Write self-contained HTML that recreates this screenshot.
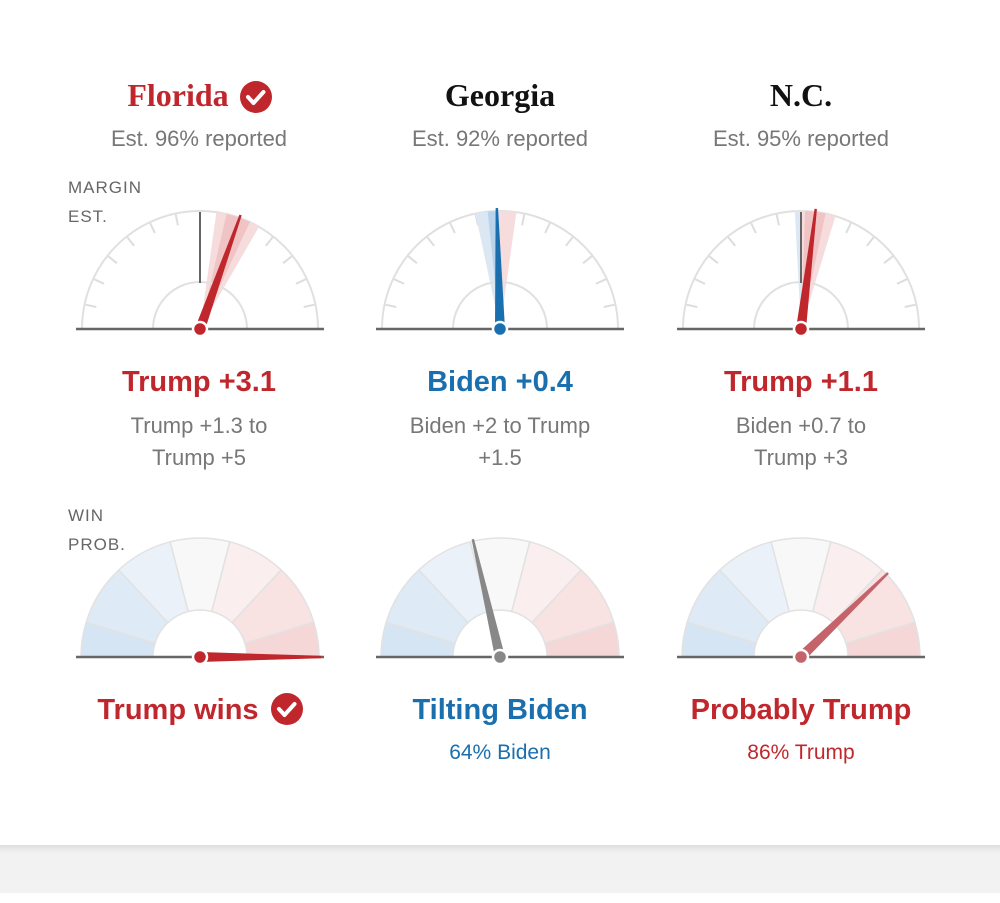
<!DOCTYPE html>
<html><head><meta charset="utf-8">
<style>
body{margin:0;width:1000px;height:903px;background:#fff;overflow:hidden;font-family:"Liberation Sans",sans-serif;position:relative}
.band{position:absolute;left:0;top:845px;width:1000px;height:48px;background:#f2f2f2;box-shadow:inset 0 8px 8px -6px rgba(0,0,0,0.12)}
svg{position:absolute;left:0;top:0}
</style></head><body>
<div class="band"></div>
<svg width="1000" height="845" xmlns="http://www.w3.org/2000/svg" xmlns:xlink="http://www.w3.org/1999/xlink">
<defs>
<g id="arc">
<path d="M-118 0 A118 118 0 0 1 118 0" fill="none" stroke="#e0e0e0" stroke-width="2"/>
<g stroke="#ddd" stroke-width="2">
<line x1="0" y1="-106" x2="0" y2="-117" transform="rotate(12)"/>
<line x1="0" y1="-106" x2="0" y2="-117" transform="rotate(25.2)"/>
<line x1="0" y1="-106" x2="0" y2="-117" transform="rotate(38.4)"/>
<line x1="0" y1="-106" x2="0" y2="-117" transform="rotate(51.6)"/>
<line x1="0" y1="-106" x2="0" y2="-117" transform="rotate(64.8)"/>
<line x1="0" y1="-106" x2="0" y2="-117" transform="rotate(78)"/>
<line x1="0" y1="-106" x2="0" y2="-117" transform="rotate(-12)"/>
<line x1="0" y1="-106" x2="0" y2="-117" transform="rotate(-25.2)"/>
<line x1="0" y1="-106" x2="0" y2="-117" transform="rotate(-38.4)"/>
<line x1="0" y1="-106" x2="0" y2="-117" transform="rotate(-51.6)"/>
<line x1="0" y1="-106" x2="0" y2="-117" transform="rotate(-64.8)"/>
<line x1="0" y1="-106" x2="0" y2="-117" transform="rotate(-78)"/>
</g>
</g>
<g id="inner">
<path d="M-47 0 A47 47 0 0 1 47 0" fill="none" stroke="#e0e0e0" stroke-width="2"/>
<line x1="-124" y1="0" x2="124" y2="0" stroke="#666" stroke-width="2.5"/>
</g>
<g id="segs" stroke="#e2e2e2" stroke-width="1.5">
<path d="M-47 0 L-119 0 A119 119 0 0 1 -113.8 -34.8 L-44.95 -13.74 A47 47 0 0 0 -47 0Z" fill="#d6e5f3"/>
<path d="M-44.95 -13.74 L-113.8 -34.8 A119 119 0 0 1 -81.16 -87.03 L-32.05 -34.38 A47 47 0 0 0 -44.95 -13.74Z" fill="#deeaf6"/>
<path d="M-32.05 -34.38 L-81.16 -87.03 A119 119 0 0 1 -29.8 -115.2 L-11.77 -45.5 A47 47 0 0 0 -32.05 -34.38Z" fill="#ebf1f9"/>
<path d="M-11.77 -45.5 L-29.8 -115.2 A119 119 0 0 1 29.8 -115.2 L11.77 -45.5 A47 47 0 0 0 -11.77 -45.5Z" fill="#f8f8f8"/>
<path d="M11.77 -45.5 L29.8 -115.2 A119 119 0 0 1 81.16 -87.03 L32.05 -34.38 A47 47 0 0 0 11.77 -45.5Z" fill="#fbeeee"/>
<path d="M32.05 -34.38 L81.16 -87.03 A119 119 0 0 1 113.8 -34.8 L44.95 -13.74 A47 47 0 0 0 32.05 -34.38Z" fill="#f8e2e2"/>
<path d="M44.95 -13.74 L113.8 -34.8 A119 119 0 0 1 119 0 L47 0 A47 47 0 0 0 44.95 -13.74Z" fill="#f5d7d7"/>
<line x1="-124" y1="0" x2="124" y2="0" stroke="#666" stroke-width="2.5"/>
</g>
<polygon id="ndl" points="-5,0 -1.2,-121 1.2,-121 5,0"/>
</defs>

<g font-family="Liberation Serif,serif" font-weight="bold" font-size="32" text-anchor="middle">
<text x="178" y="106" fill="#c0272d">Florida</text>
<text x="500" y="106" fill="#121212">Georgia</text>
<text x="801" y="106" fill="#121212">N.C.</text>
</g>
<g font-size="22" fill="#777" text-anchor="middle">
<text x="199" y="146">Est. 96% reported</text>
<text x="500" y="146">Est. 92% reported</text>
<text x="801" y="146">Est. 95% reported</text>
</g>
<g font-size="17" fill="#666" letter-spacing="1">
<text x="68" y="193">MARGIN</text><text x="68" y="222">EST.</text>
<text x="68" y="521">WIN</text><text x="68" y="550">PROB.</text>
</g>

<!-- Florida top -->
<g transform="translate(200,329)">
<use xlink:href="#arc" href="#arc"/>
<path d="M0 0 L16.42 -116.85 A118 118 0 0 1 59 -102.19Z" fill="#f7dcdd"/>
<path d="M0 0 L26.54 -114.98 A118 118 0 0 1 49.87 -106.94Z" fill="#f0c3c5"/>
<use xlink:href="#inner" href="#inner"/>
<line x1="0" y1="-117" x2="0" y2="-46" stroke="#666" stroke-width="2"/>
<use xlink:href="#ndl" href="#ndl" fill="#c0272d" transform="rotate(19.6)"/>
<circle r="7" fill="#c0272d" stroke="#fff" stroke-width="2.5"/>
</g>
<!-- Georgia top -->
<g transform="translate(500,329)">
<use xlink:href="#arc" href="#arc"/>
<path d="M0 0 L-24.53 -115.42 A118 118 0 0 1 0 -118Z" fill="#dbe8f4"/>
<path d="M0 0 L-12.33 -117.35 A118 118 0 0 1 -2.06 -117.98Z" fill="#b9d3ea"/>
<path d="M0 0 L0 -118 A118 118 0 0 1 16.42 -116.85Z" fill="#f7dcdd"/>
<use xlink:href="#inner" href="#inner"/>
<use xlink:href="#ndl" href="#ndl" fill="#1a6faf" transform="rotate(-1.5)"/>
<circle r="7" fill="#1a6faf" stroke="#fff" stroke-width="2.5"/>
</g>
<!-- NC top -->
<g transform="translate(801,329)">
<use xlink:href="#arc" href="#arc"/>
<path d="M0 0 L-6.18 -117.84 A118 118 0 0 1 0 -118Z" fill="#dbe8f4"/>
<path d="M0 0 L0 -118 A118 118 0 0 1 34.5 -112.84Z" fill="#f7dcdd"/>
<path d="M0 0 L4.12 -117.93 A118 118 0 0 1 24.53 -115.42Z" fill="#f0c3c5"/>
<use xlink:href="#inner" href="#inner"/>
<line x1="0" y1="-117" x2="0" y2="-46" stroke="#666" stroke-width="2"/>
<use xlink:href="#ndl" href="#ndl" fill="#c0272d" transform="rotate(7)"/>
<circle r="7" fill="#c0272d" stroke="#fff" stroke-width="2.5"/>
</g>

<!-- bottom -->
<g transform="translate(200,657)">
<use xlink:href="#segs" href="#segs"/>
<use xlink:href="#ndl" href="#ndl" fill="#c0272d" transform="rotate(90)"/>
<circle r="7" fill="#c0272d" stroke="#fff" stroke-width="2.5"/>
</g>
<g transform="translate(500,657)">
<use xlink:href="#segs" href="#segs"/>
<use xlink:href="#ndl" href="#ndl" fill="#888" transform="rotate(-13)"/>
<circle r="7" fill="#888" stroke="#fff" stroke-width="2.5"/>
</g>
<g transform="translate(801,657)">
<use xlink:href="#segs" href="#segs"/>
<use xlink:href="#ndl" href="#ndl" fill="#c4646a" transform="rotate(46)"/>
<circle r="7" fill="#c4646a" stroke="#fff" stroke-width="2.5"/>
</g>

<g font-size="29" font-weight="bold" text-anchor="middle">
<text x="199" y="391" fill="#c0272d">Trump +3.1</text>
<text x="500" y="391" fill="#1a6faf">Biden +0.4</text>
<text x="801" y="391" fill="#c0272d">Trump +1.1</text>
<text x="178" y="719" fill="#c0272d">Trump wins</text>
<text x="500" y="719" fill="#1a6faf">Tilting Biden</text>
<text x="801" y="719" fill="#c0272d">Probably Trump</text>
</g>
<g font-size="22" fill="#777" text-anchor="middle">
<text x="199" y="433">Trump +1.3 to</text><text x="199" y="465">Trump +5</text>
<text x="500" y="433">Biden +2 to Trump</text><text x="500" y="465">+1.5</text>
<text x="801" y="433">Biden +0.7 to</text><text x="801" y="465">Trump +3</text>
<text x="500" y="759" fill="#1a6faf" font-size="21">64% Biden</text>
<text x="801" y="759" fill="#c0272d" font-size="21">86% Trump</text>
</g>
<circle cx="256" cy="97" r="16" fill="#c0272d"/>
<path d="M248 97 l5.5 6 l10 -11" fill="none" stroke="#fff" stroke-width="4" stroke-linecap="round" stroke-linejoin="round"/>
<circle cx="287" cy="709" r="16" fill="#c0272d"/>
<path d="M279 709 l5.5 6 l10 -11" fill="none" stroke="#fff" stroke-width="4" stroke-linecap="round" stroke-linejoin="round"/>
</svg>
</body></html>
